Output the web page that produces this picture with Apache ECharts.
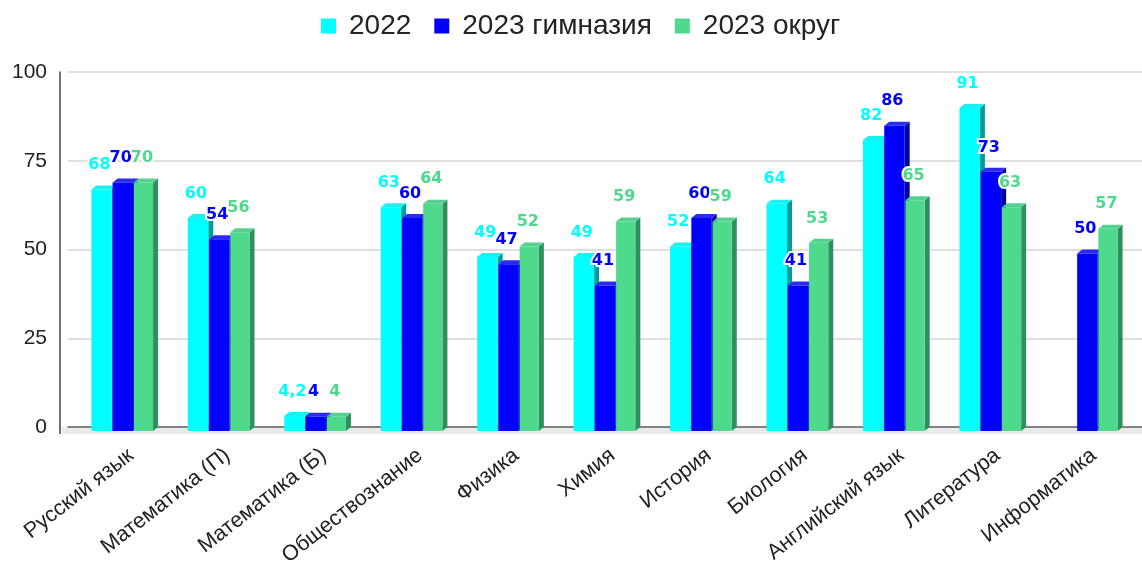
<!DOCTYPE html>
<html><head><meta charset="utf-8">
<style>html,body{margin:0;padding:0;background:#fff}#c{width:1142px;height:569px}</style>
<script src="https://cdn.jsdelivr.net/npm/echarts@6/dist/echarts.min.js"></script>
</head><body><div id="c"></div>
<script>
const categories = ['Русский язык','Математика (П)','Математика (Б)','Обществознание','Физика','Химия','История','Биология','Английский язык','Литература','Информатика'];
const seriesNames = ['2022','2023 гимназия','2023 округ'];
const values2022 = [68,60,4.2,63,49,49,52,64,82,91,null];
const valuesGym = [70,54,4,60,47,41,60,41,86,73,50];
const valuesOkrug = [70,56,4,64,52,59,59,53,65,63,57];
const yTicks = [0,25,50,75,100];

const palette = [
  {front:'#00FFFF', top:'#1AF0F0', side:'#009C9C'},
  {front:'#0000FF', top:'#2A2AF0', side:'#0000A6'},
  {front:'#4FD98D', top:'#55D090', side:'#2F8F5E'}
];
const DX = 5, DY = 4, LIFT = 4;

function barRenderer(idx){
  const c = palette[idx];
  return function(params, api){
    const v = api.value(1);
    if (v === null || v === undefined || isNaN(v)) return null;
    const cat = api.value(0);
    const band = api.size([1,0])[0];
    const slot = band * 0.22;
    const w = slot - (idx === 2 ? 2 : 0.8);
    const p = api.coord([cat, v]);
    const p0 = api.coord([cat, 0]);
    const x = p[0] + (idx - 1) * slot - slot/2;
    const yT = p[1] + LIFT, yB = p0[1] + LIFT;
    const label = String(v).replace('.', ',');
    return {type:'group', children:[
      {type:'polygon', shape:{points:[[x+w,yT],[x+w+DX,yT-DY],[x+w+DX,yB-DY],[x+w,yB]]}, style:{fill:c.side}, z2:idx},
      {type:'polygon', shape:{points:[[x,yT],[x+DX,yT-DY],[x+w+DX,yT-DY],[x+w,yT]]}, style:{fill:c.top}, z2:idx},
      {type:'rect', shape:{x:x,y:yT,width:w,height:yB-yT}, style:{fill:c.front}, z2:idx},
      {type:'text', x:x+slot/2-2.5, y:p[1]-20.5, z2:100, style:{
        text:label, fill:c.front, font:'bold 16px "DejaVu Sans"', align:'center', verticalAlign:'middle',
        stroke:'#fff', lineWidth:4, strokeFirst:true
      }}
    ]};
  };
}
const allValues = [values2022, valuesGym, valuesOkrug];

const chart = echarts.init(document.getElementById('c'), null, {renderer:'canvas'});
chart.setOption({
  animation:false,
  backgroundColor:'#fff',
  color: palette.map(p=>p.front),
  legend:{
    data:seriesNames, top:7, left:316, icon:'rect', itemWidth:15, itemHeight:15, itemGap:23,
    textStyle:{fontFamily:'"Liberation Sans"', fontSize:28, color:'#222', padding:[0,0,0,8]}
  },
  graphic:[
    {type:'rect', z:-1, shape:{x:62,y:427,width:1080,height:7}, style:{fill:'#EAEAEA'}},
    {type:'line', z:1, shape:{x1:60,y1:427,x2:60,y2:434}, style:{stroke:'#444',lineWidth:1.5}}
  ],
  grid:[
    {left:75, right:6, top:72, height:355},
    {left:68, right:0, top:72, height:355},
    {left:83, right:-2, top:72, height:355}
  ],
  xAxis:[
    {type:'category', gridIndex:0, data:categories, axisLine:{show:false}, axisTick:{show:false}, axisLabel:{show:false}},
    {type:'value', gridIndex:1, min:0, max:1, splitLine:{show:false}, axisTick:{show:false}, axisLabel:{show:false},
     axisLine:{show:true, lineStyle:{color:'#666', width:1.5}}},
    {type:'category', gridIndex:2, data:categories, axisLine:{show:false}, axisTick:{show:false},
     axisLabel:{interval:0, rotate:38, margin:35, fontFamily:'"Liberation Sans"', fontSize:21.5, color:'#222'}}
  ],
  yAxis:[
    {type:'value', gridIndex:0, min:yTicks[0], max:yTicks[4], interval:25, show:false},
    {type:'value', gridIndex:1, min:yTicks[0], max:yTicks[4], interval:25, offset:8,
     axisLine:{show:true, onZero:false, lineStyle:{color:'#444', width:1.5}}, axisTick:{show:false},
     axisLabel:{margin:13, padding:[2,0,0,0], fontFamily:'"Liberation Sans"', fontSize:21, color:'#222'},
     splitLine:{show:true, lineStyle:{color:'#D4D4D4', width:1.5}}},
    {type:'value', gridIndex:2, min:yTicks[0], max:yTicks[4], interval:25, show:false}
  ],
  series: seriesNames.map((name,i)=>({
    name, type:'custom', xAxisIndex:0, yAxisIndex:0, coordinateSystem:'cartesian2d',
    itemStyle:{color:palette[i].front}, clip:false,
    renderItem:barRenderer(i), encode:{x:0,y:1},
    data: allValues[i].map((v,k)=>[k, v])
  }))
});
</script></body></html>
